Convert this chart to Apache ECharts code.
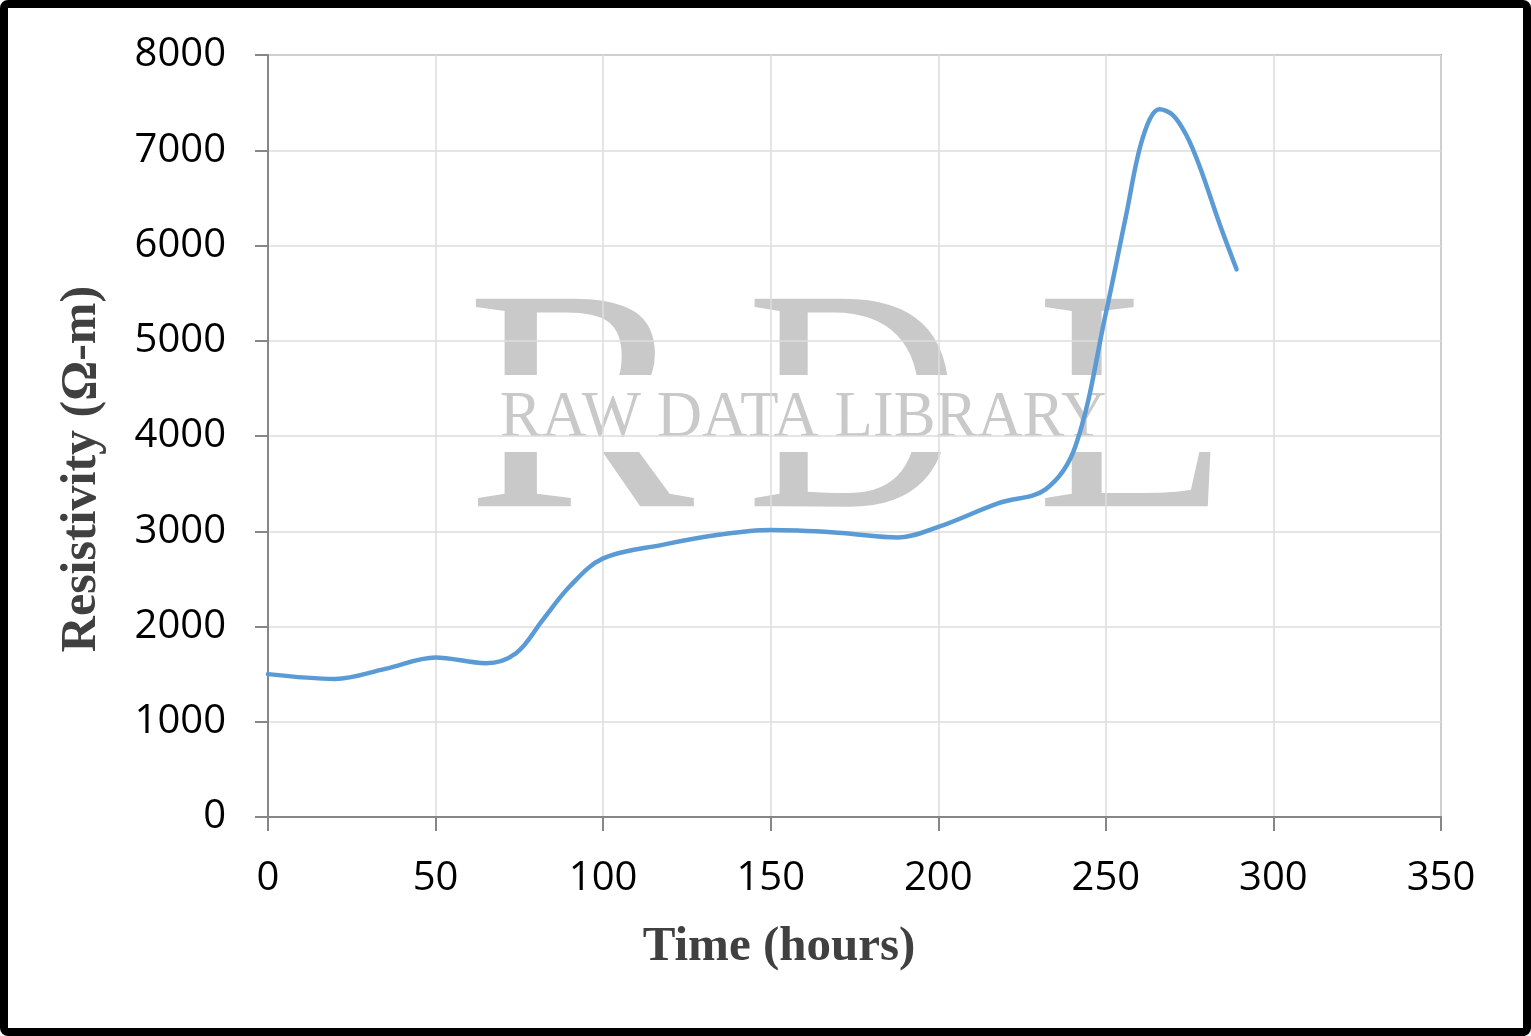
<!DOCTYPE html>
<html>
<head>
<meta charset="utf-8">
<script src="https://cdn.jsdelivr.net/npm/echarts@6/dist/echarts.min.js"></script>
<style>
html,body{margin:0;padding:0;background:#fff;}
#wrap{position:relative;width:1531px;height:1036px;overflow:hidden;}
#chart{position:absolute;left:0;top:0;width:1531px;height:1036px;}
#frame{position:absolute;left:0;top:0;width:1531px;height:1036px;box-sizing:border-box;border:8px solid #000;border-radius:8px;pointer-events:none;}
</style>
</head>
<body>
<div id="wrap"><div id="chart"></div><div id="frame"></div></div>
<script>
// Data
const hours = [0, 20, 35, 50, 65, 74, 82, 90, 100, 118, 135, 150, 170, 188, 200, 218, 232, 241, 250, 256, 261, 266, 270, 274, 278, 284, 289];
const resistivity = [1500, 1450, 1555, 1675, 1615, 1720, 2070, 2420, 2715, 2860, 2965, 3012, 2985, 2935, 3045, 3295, 3440, 3900, 5290, 6310, 7130, 7430, 7370, 7160, 6830, 6220, 5750];
const xAxisTitle = 'Time (hours)';
const yAxisTitle = 'Resistivity (\u03A9-m)';
const watermarkBig = ['R','D','L'];
const watermarkSmall = 'RAW DATA LIBRARY';

const chart = echarts.init(document.getElementById('chart'), null, {renderer:'canvas'});
const wmColor = '#c9c9c9';
const bigFont = '317px "Liberation Serif", serif';
const option = {
  animation: false,
  backgroundColor: '#fff',
  grid: {left: 268, right: 90, top: 55, bottom: 219, show: true, borderColor: '#a6a6a6', borderWidth: 2, containLabel: false},
  xAxis: {
    type: 'value', min: 0, max: 350, interval: 50,
    axisLine: {show: true, lineStyle: {color: '#868686', width: 2}},
    axisTick: {show: true, length: 14, lineStyle: {color: '#868686', width: 2}},
    axisLabel: {margin: 42, color: '#000', fontSize: 40, fontFamily: '"Open Sans", sans-serif', formatter: v => String(v)},
    splitLine: {show: true, lineStyle: {color: '#dcdcdc', width: 1.5}}
  },
  yAxis: {
    type: 'value', min: 0, max: 8000, interval: 1000,
    axisLine: {show: true, lineStyle: {color: '#868686', width: 2}},
    axisTick: {show: true, length: 13, lineStyle: {color: '#868686', width: 2}},
    axisLabel: {margin: 42, color: '#000', fontSize: 40, fontFamily: '"Open Sans", sans-serif', formatter: v => String(v)},
    splitLine: {show: true, lineStyle: {color: '#dcdcdc', width: 1.5}}
  },
  graphic: [
    {type:'text', z:-10, x:466, y:423, scaleX:1.08, style:{text:watermarkBig[0], font:bigFont, fill:wmColor, textAlign:'left', textVerticalAlign:'middle'}},
    {type:'text', z:-10, x:746, y:423, scaleX:0.94, style:{text:watermarkBig[1], font:bigFont, fill:wmColor, textAlign:'left', textVerticalAlign:'middle'}},
    {type:'text', z:-10, x:1036, y:423, style:{text:watermarkBig[2], font:bigFont, fill:wmColor, textAlign:'left', textVerticalAlign:'middle'}},
    {type:'rect', z:-9, shape:{x:460, y:375, width:780, height:77}, style:{fill:'#fff'}},
    {type:'text', z:-8, x:803, y:419, scaleX:0.95, style:{text:watermarkSmall, font:'66px "Liberation Serif", serif', fill:wmColor, textAlign:'center', textVerticalAlign:'middle'}},
    {type:'text', z:10, x:779, y:947, style:{text:xAxisTitle, font:'bold 49px "Liberation Serif", serif', fill:'#404040', textAlign:'center', textVerticalAlign:'middle'}},
    {type:'text', z:10, x:82, y:469, rotation:Math.PI/2, style:{text:yAxisTitle, font:'bold 50px "Liberation Serif", serif', fill:'#404040', textAlign:'center', textVerticalAlign:'middle'}}
  ],
  series: [{
    type: 'line',
    data: hours.map((h, i) => [h, resistivity[i]]),
    smooth: 0.35,
    showSymbol: false,
    lineStyle: {color: '#5b9bd5', width: 4.5, cap: 'round', join: 'round'},
    itemStyle: {color: '#5b9bd5'},
    z: 5
  }]
};
chart.setOption(option);
</script>
</body>
</html>
